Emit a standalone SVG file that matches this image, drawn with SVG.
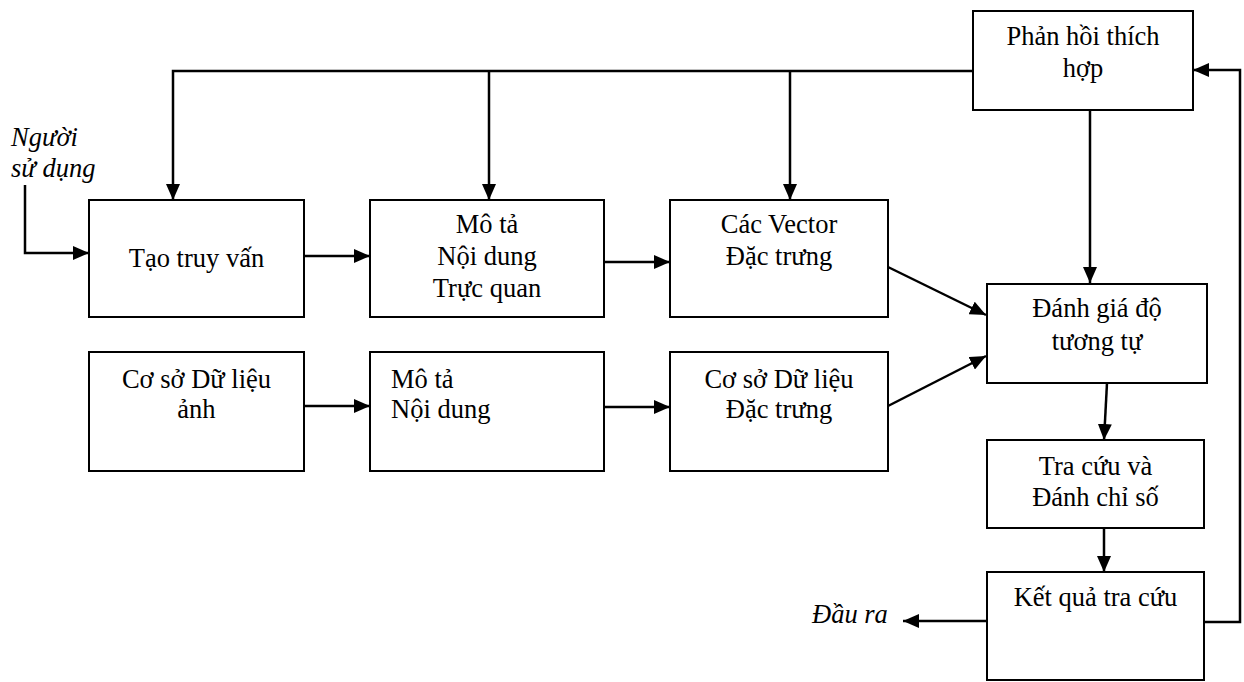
<svg xmlns="http://www.w3.org/2000/svg" width="1244" height="682" viewBox="0 0 1244 682">
<style>
.box{fill:#fff;stroke:#000;stroke-width:2}
text{font-family:'Liberation Serif','Times New Roman',serif;font-size:26.5px;fill:#000}
.c{text-anchor:middle}
.i{font-style:italic}
.ln{fill:none;stroke:#000;stroke-width:2.5}
</style>
<defs>
<marker id="ah" markerUnits="userSpaceOnUse" markerWidth="16" markerHeight="14" refX="16" refY="7" orient="auto" viewBox="0 0 16 14">
<path d="M0,0 L16,7 L0,14 z" fill="#000"/>
</marker>
</defs>
<rect width="1244" height="682" fill="#fff"/>
<g id="connectors">
<polyline class="ln" points="973,71 173,71 173,200" marker-end="url(#ah)"/>
<line class="ln" x1="489" y1="71" x2="489" y2="200" marker-end="url(#ah)"/>
<line class="ln" x1="790" y1="71" x2="790" y2="200" marker-end="url(#ah)"/>
<polyline class="ln" points="25,185 25,253 89,253" marker-end="url(#ah)"/>
<line class="ln" x1="304" y1="256" x2="370" y2="256" marker-end="url(#ah)"/>
<line class="ln" x1="604" y1="262" x2="670" y2="262" marker-end="url(#ah)"/>
<line class="ln" x1="304" y1="406" x2="370" y2="406" marker-end="url(#ah)"/>
<line class="ln" x1="604" y1="407" x2="670" y2="407" marker-end="url(#ah)"/>
<line class="ln" x1="888" y1="267" x2="986" y2="315" marker-end="url(#ah)"/>
<line class="ln" x1="888" y1="406" x2="986" y2="356" marker-end="url(#ah)"/>
<line class="ln" x1="1090" y1="110" x2="1090" y2="283" marker-end="url(#ah)"/>
<line class="ln" x1="1107" y1="383" x2="1104" y2="440" marker-end="url(#ah)"/>
<line class="ln" x1="1104" y1="528" x2="1104" y2="572" marker-end="url(#ah)"/>
<line class="ln" x1="987" y1="621" x2="903" y2="621" marker-end="url(#ah)"/>
<polyline class="ln" points="1204,622 1240,622 1240,70 1193,70" marker-end="url(#ah)"/>
</g>
<g id="user">
<text class="i" x="11" y="146">Người</text>
<text class="i" x="11" y="177">sử dụng</text>
</g>
<g id="output">
<text class="i" x="812" y="623">Đầu ra</text>
</g>
<g id="tao-truy-van">
<rect class="box" x="89" y="200" width="215" height="117"/>
<text class="c" x="196.5" y="267">Tạo truy vấn</text>
</g>
<g id="mo-ta-truc-quan">
<rect class="box" x="370" y="200" width="234" height="117"/>
<text class="c" x="487" y="233">Mô tả</text>
<text class="c" x="487" y="265">Nội dung</text>
<text class="c" x="487" y="297">Trực quan</text>
</g>
<g id="cac-vector">
<rect class="box" x="670" y="200" width="218" height="117"/>
<text class="c" x="779" y="233">Các Vector</text>
<text class="c" x="779" y="265">Đặc trưng</text>
</g>
<g id="csdl-anh">
<rect class="box" x="89" y="352" width="215" height="119"/>
<text class="c" x="196.5" y="388">Cơ sở Dữ liệu</text>
<text class="c" x="196.5" y="418">ảnh</text>
</g>
<g id="mo-ta-noi-dung">
<rect class="box" x="370" y="352" width="234" height="119"/>
<text x="391" y="388">Mô tả</text>
<text x="391" y="418">Nội dung</text>
</g>
<g id="csdl-dac-trung">
<rect class="box" x="670" y="352" width="218" height="119"/>
<text class="c" x="779" y="388">Cơ sở Dữ liệu</text>
<text class="c" x="779" y="418">Đặc trưng</text>
</g>
<g id="phan-hoi">
<rect class="box" x="973" y="11" width="220" height="99"/>
<text class="c" x="1083" y="45">Phản hồi thích</text>
<text class="c" x="1083" y="77">hợp</text>
</g>
<g id="danh-gia">
<rect class="box" x="987" y="284" width="220" height="99"/>
<text class="c" x="1097" y="317">Đánh giá độ</text>
<text class="c" x="1097" y="350">tương tự</text>
</g>
<g id="tra-cuu">
<rect class="box" x="987" y="440" width="217" height="88"/>
<text class="c" x="1095.5" y="475">Tra cứu và</text>
<text class="c" x="1095.5" y="506">Đánh chỉ số</text>
</g>
<g id="ket-qua">
<rect class="box" x="987" y="572" width="217" height="108"/>
<text class="c" x="1095.5" y="606">Kết quả tra cứu</text>
</g>
</svg>
